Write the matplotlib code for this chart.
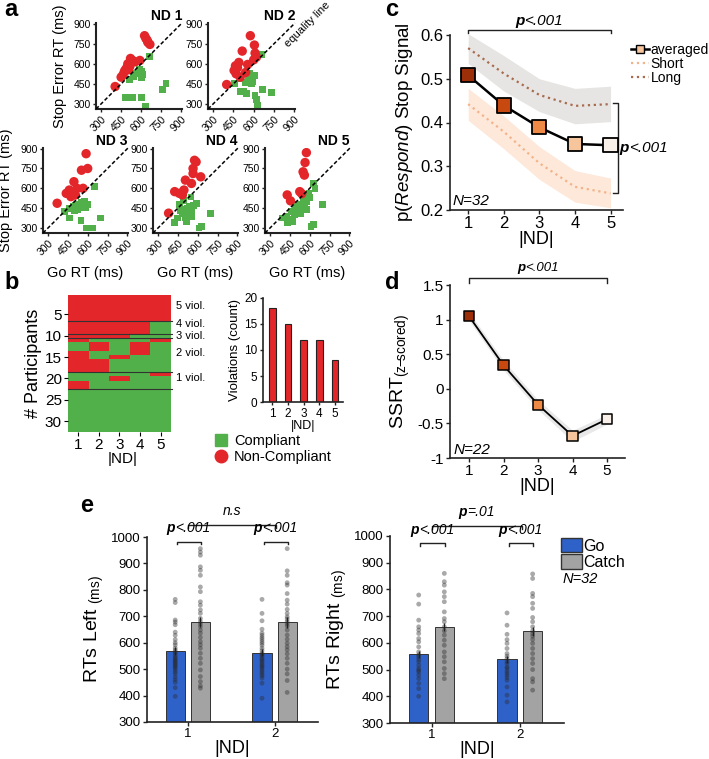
import numpy as np
import matplotlib.pyplot as plt
import matplotlib.transforms as mtransforms
from matplotlib.lines import Line2D
from matplotlib.patches import Patch
from matplotlib.colors import ListedColormap

plt.rcParams['font.family'] = ['Liberation Sans', 'DejaVu Sans']
plt.rcParams['mathtext.fontset'] = 'custom'
plt.rcParams['mathtext.rm'] = 'Liberation Sans'
plt.rcParams['mathtext.it'] = 'Liberation Sans:italic'
plt.rcParams['mathtext.bf'] = 'Liberation Sans:bold'

W, H = 709, 759
RED = '#e3262a'
GREEN = '#52b04b'
BLUE = '#2f62c9'
GREY = '#a3a3a3'

# ---- panel a: (Go RT, Stop Error RT) per participant, per |ND|
nd1_noncompliant = [(405, 430), (450, 500), (465, 520), (475, 545), (485, 560), (495, 575),
                    (505, 555), (515, 580), (500, 600), (520, 640), (535, 625), (555, 615),
                    (590, 625), (625, 810), (635, 790), (645, 775), (650, 760), (665, 745)]
nd1_compliant = [(480, 350), (535, 345), (600, 345), (630, 285), (760, 410), (785, 450),
                 (660, 655), (585, 555), (600, 540), (610, 520), (600, 500), (540, 505),
                 (560, 530), (515, 485)]
nd2_noncompliant = [(400, 445), (455, 550), (465, 585), (490, 610), (515, 695), (470, 525),
                    (500, 500), (540, 535), (575, 810), (605, 740), (610, 680), (620, 650),
                    (555, 595), (480, 570), (600, 630)]
nd2_compliant = [(455, 450), (500, 395), (525, 395), (548, 375), (535, 460), (570, 525),
                 (585, 450), (605, 510), (620, 335), (630, 290), (665, 410), (730, 385),
                 (660, 670), (560, 500), (590, 470), (500, 490), (610, 360)]
nd3_noncompliant = [(369, 487), (438, 562), (461, 587), (484, 575), (496, 650), (507, 550),
                    (519, 600), (565, 600), (553, 737), (600, 750), (588, 862), (473, 537)]
nd3_compliant = [(425, 425), (460, 450), (495, 460), (530, 475), (550, 490), (575, 500),
                 (520, 440), (480, 445), (460, 375), (550, 355), (590, 300), (640, 300),
                 (700, 375), (650, 612), (540, 455), (510, 470), (500, 430), (560, 470),
                 (600, 480), (585, 455)]
nd4_noncompliant = [(380, 412), (426, 575), (461, 562), (484, 550), (496, 587), (507, 662),
                    (553, 637), (565, 750), (576, 812), (588, 800), (565, 712), (623, 687)]
nd4_compliant = [(460, 475), (495, 510), (550, 535), (520, 450), (485, 410), (450, 375),
                 (505, 375), (555, 385), (590, 485), (425, 340), (700, 410), (610, 300),
                 (630, 310), (540, 460), (500, 440), (570, 470), (530, 400), (470, 430),
                 (555, 420), (515, 350)]
nd5_noncompliant = [(430, 550), (455, 505), (525, 575), (550, 725), (560, 700), (565, 795),
                    (575, 870), (540, 560)]
nd5_compliant = [(630, 635), (640, 600), (595, 560), (560, 510), (540, 475), (495, 450),
                 (460, 425), (425, 390), (390, 375), (435, 340), (470, 350), (530, 410),
                 (575, 440), (700, 475), (610, 310), (630, 325), (510, 480), (550, 520),
                 (580, 500), (600, 530), (520, 440), (485, 400), (455, 365), (560, 460)]
rt_ticks = [300, 450, 600, 750, 900]

# ---- panel b: violation pattern per participant (1 = violation) for |ND| 1..5
viol_pattern = ['11111'] * 6 + ['11110'] * 3 + ['11100'] + \
    ['10001', '01010', '01010', '10010', '10100', '11000', '11000', '11000'] + \
    ['00001', '00100', '10000', '10000'] + ['00000'] * 10
group_breaks = [6.5, 9.5, 10.5, 18.5, 22.5]
group_labels = ['5 viol.', '4 viol.', '3 viol.', '2 viol.', '1 viol.']
group_label_rows = [3.0, 7.2, 10.1, 14.0, 19.9]

# ---- panel c
nd = [1, 2, 3, 4, 5]
p_avg = [0.508, 0.439, 0.389, 0.351, 0.348]
p_long = [0.570, 0.512, 0.463, 0.438, 0.442]
p_long_lo = [0.535, 0.472, 0.425, 0.397, 0.402]
p_long_hi = [0.603, 0.553, 0.500, 0.478, 0.483]
p_short = [0.442, 0.379, 0.307, 0.253, 0.238]
p_short_lo = [0.405, 0.340, 0.270, 0.218, 0.205]
p_short_hi = [0.478, 0.415, 0.345, 0.290, 0.273]
nd_colors = ['#9c2f08', '#c8490f', '#ee8a45', '#f6c59c', '#f8efe8']

# ---- panel d
ssrt = [1.05, 0.34, -0.23, -0.68, -0.44]
ssrt_lo = [0.99, 0.27, -0.30, -0.76, -0.51]
ssrt_hi = [1.11, 0.41, -0.16, -0.60, -0.37]

# ---- panel e
nd_e = [1, 2]
left_go = [570, 562]
left_catch = [678, 677]
left_go_err = [15, 14]
left_catch_err = [20, 20]
right_go = [557, 538]
right_catch = [660, 643]
right_go_err = [14, 14]
right_catch_err = [16, 17]

left_go1_pts = [764, 752, 686, 678, 668, 640, 628, 612, 600, 592, 580, 572, 565, 560, 552, 545,
                540, 535, 530, 525, 520, 515, 510, 505, 498, 490, 482, 470, 460, 450, 430, 397]
left_catch1_pts = [956, 943, 931, 887, 874, 855, 811, 793, 755, 742, 724, 711, 692, 680, 671, 661,
                   648, 636, 620, 604, 592, 579, 560, 541, 522, 497, 472, 453, 437, 428]
left_go2_pts = [764, 711, 683, 651, 636, 628, 620, 613, 605, 598, 590, 579, 570, 560, 555, 548,
                540, 535, 528, 522, 515, 510, 505, 497, 490, 482, 475, 466, 447, 390]
left_catch2_pts = [956, 872, 855, 827, 818, 786, 761, 746, 726, 711, 698, 690, 680, 672, 663, 648,
                   629, 613, 598, 585, 573, 558, 541, 522, 500, 482, 457, 412]
right_go1_pts = [779, 745, 685, 660, 648, 635, 616, 604, 585, 566, 555, 548, 538, 529, 516, 504,
                 497, 491, 479, 466, 448, 429, 400]
right_catch1_pts = [860, 829, 816, 791, 773, 754, 716, 691, 679, 660, 645, 629, 610, 591, 566,
                    548, 529, 504, 485, 466]
right_go2_pts = [712, 666, 632, 612, 598, 579, 560, 550, 541, 530, 523, 510, 505, 495, 487, 479,
                 470, 460, 435, 404, 379]
right_catch2_pts = [858, 841, 785, 773, 748, 729, 695, 679, 660, 645, 635, 625, 613, 598, 579,
                    560, 541, 523, 500, 466, 454, 423]


def add_ax(fig, l, t, r, b):
    return fig.add_axes([l / W, 1 - b / H, (r - l) / W, (b - t) / H])


def ftext(fig, x, y, s, **kw):
    fig.text(x / W, 1 - y / H, s, **kw)


def style(ax, lw=1.2):
    for s in ['top', 'right']:
        ax.spines[s].set_visible(False)
    for s in ['left', 'bottom']:
        ax.spines[s].set_linewidth(lw)
        ax.spines[s].set_color('#222222')
    ax.tick_params(direction='out', length=3, width=1, color='#222222', pad=1.5)


def ptext(ax, x, y, rest, size, shift, va='bottom'):
    # bold italic "p" followed by italic statistic; shift moves the join point (in em)
    tr = mtransforms.offset_copy(ax.transData, fig=ax.figure, x=-shift * size, units='points')
    ax.text(x, y, 'p', ha='right', va=va, fontsize=size, fontweight='bold',
            fontstyle='italic', transform=tr, clip_on=False)
    ax.text(x, y, rest, ha='left', va=va, fontsize=size, fontstyle='italic',
            transform=tr, clip_on=False)


def hbracket(ax, x0, x1, y, drop, lw=1.0):
    ax.plot([x0, x0, x1, x1], [y - drop, y, y, y - drop], color='#222222', lw=lw, clip_on=False)


fig = plt.figure(figsize=(W / 100, H / 100), dpi=100)

# ================= panel a =================
a_panels = [(nd1_noncompliant, nd1_compliant, (96, 23, 182, 109)),
            (nd2_noncompliant, nd2_compliant, (208, 23, 295, 109)),
            (nd3_noncompliant, nd3_compliant, (43, 148, 128, 233)),
            (nd4_noncompliant, nd4_compliant, (153, 148, 238, 233)),
            (nd5_noncompliant, nd5_compliant, (265, 148, 350, 233))]
for i, (red, green, box) in enumerate(a_panels):
    ax = add_ax(fig, *box)
    g = np.array(green)
    r = np.array(red)
    ax.scatter(g[:, 0], g[:, 1], marker='s', s=24, c=GREEN, edgecolors='none', zorder=2)
    ax.scatter(r[:, 0], r[:, 1], marker='o', s=46, c=RED, edgecolors='none', zorder=3)
    ax.plot([262, 905], [262, 905], color='k', ls='--', dashes=(2.5, 1.5), lw=1.1, zorder=4,
            clip_on=False)
    ax.set_xlim(262, 905)
    ax.set_ylim(262, 905)
    ax.set_xticks(rt_ticks)
    ax.set_yticks(rt_ticks)
    ax.set_xticklabels(rt_ticks, rotation=45, ha='right', rotation_mode='anchor', fontsize=7.5)
    ax.set_yticklabels(rt_ticks, fontsize=7.5)
    style(ax, lw=1.5)
    ax.tick_params(length=2)
    ax.text(1.0, 1.0, f'ND {i + 1}', transform=ax.transAxes, ha='right', va='bottom',
            fontsize=10, fontweight='bold')
    if i >= 2:
        ax.set_xlabel('Go RT (ms)', fontsize=10.5, labelpad=6)

ftext(fig, 60, 66, 'Stop Error RT (ms)', rotation=90, ha='center', va='center', fontsize=10.5)
ftext(fig, 6, 190, 'Stop Error RT (ms)', rotation=90, ha='center', va='center', fontsize=10.5)
ftext(fig, 307, 24, 'equality line', rotation=45, ha='center', va='center', fontsize=8)

# ================= panel b =================
mat = np.array([[int(c) for c in row] for row in viol_pattern])
ax = add_ax(fig, 68, 295, 177, 432)
ax.imshow(mat, cmap=ListedColormap([GREEN, RED]), aspect='auto', interpolation='nearest',
          extent=(0.5, 5.5, mat.shape[0] + 0.5, 0.5))
for yb in group_breaks:
    ax.plot([0.5, 5.55], [yb, yb], color='#333333', lw=0.8, clip_on=False)
for lab, yr in zip(group_labels, group_label_rows):
    ax.text(5.75, yr, lab, fontsize=8, va='center', ha='left')
ax.set_xticks(nd)
ax.set_yticks([5, 10, 15, 20, 25, 30])
ax.tick_params(labelsize=11, length=3, pad=1.5)
for s in ax.spines.values():
    s.set_visible(False)
ax.set_xlabel('|ND|', fontsize=11, labelpad=0)
ax.set_ylabel('# Participants', fontsize=13, labelpad=2)

ax = add_ax(fig, 263, 298, 343, 402)
ax.bar(nd, mat.sum(axis=0), width=0.42, color=RED, edgecolor='#222222', lw=0.8)
ax.set_xlim(0.4, 5.5)
ax.set_ylim(0, 20)
ax.set_xticks(nd)
ax.set_yticks([0, 5, 10, 15, 20])
style(ax)
ax.tick_params(labelsize=8.5, length=2.5)
ax.set_xlabel('|ND|', fontsize=9, labelpad=0)
ax.set_ylabel('Violations (count)', fontsize=9.5, labelpad=2)

fig.legend(handles=[Line2D([], [], marker='s', ls='', color=GREEN, ms=8),
                    Line2D([], [], marker='o', ls='', color=RED, ms=9)],
           labels=['Compliant', 'Non-Compliant'], loc='upper left',
           bbox_to_anchor=(212 / W, 1 - 434 / H), frameon=False, fontsize=10.5,
           handletextpad=0.3, labelspacing=0.15, borderaxespad=0, handlelength=1.2,
           borderpad=0)

# ================= panel c =================
ax = add_ax(fig, 450, 35, 623, 210)
ax.fill_between(nd, p_long_lo, p_long_hi, color='#e7e5e3', lw=0, zorder=1)
ax.fill_between(nd, p_short_lo, p_short_hi, color='#fde8da', lw=0, zorder=1)
ax.plot(nd, p_long, ls=':', color='#a86b4e', lw=1.6, zorder=2)
ax.plot(nd, p_short, ls=':', color='#f3b38a', lw=1.6, zorder=2)
ax.plot(nd, p_avg, color='k', lw=1.8, zorder=3)
ax.scatter(nd, p_avg, marker='s', s=105, c=nd_colors, edgecolors='k', linewidths=1.3, zorder=4)
ax.set_xlim(0.49, 5.35)
ax.set_ylim(0.2, 0.6)
ax.set_xticks(nd)
ax.set_yticks([0.2, 0.3, 0.4, 0.5, 0.6])
style(ax)
ax.tick_params(labelsize=12)
ax.set_xlabel('|ND|', fontsize=13, labelpad=0)
ax.set_ylabel(r'p($\mathit{Respond}$) Stop Signal', fontsize=13.5, labelpad=4)
ax.text(0.55, 0.205, 'N=32', fontsize=11, fontstyle='italic', va='bottom')
hbracket(ax, 1, 5, 0.611, 0.006)
ptext(ax, 3, 0.617, '<.001', 11, 0.98)
ax.plot([5.06, 5.2, 5.2, 5.06], [0.445, 0.445, 0.239, 0.239], color='#222222', lw=1.0,
        clip_on=False)
ptext(ax, 5.24, 0.342, '<.001', 11, -0.62, va='center')
ax.legend(handles=[Line2D([], [], color='k', lw=1.8, marker='s', ms=6, mfc='#f6c59c', mec='k'),
                   Line2D([], [], color='#f3b38a', ls=':', lw=1.6),
                   Line2D([], [], color='#a86b4e', ls=':', lw=1.6)],
          labels=['averaged', 'Short', 'Long'], loc='upper left', bbox_to_anchor=(1.0, 1.0),
          frameon=False, fontsize=10, handlelength=1.3, handletextpad=0.1, labelspacing=0.0,
          borderaxespad=0.2)

# ================= panel d =================
ax = add_ax(fig, 450, 285, 625, 458)
ax.fill_between(nd, ssrt_lo, ssrt_hi, color='#e8e8e8', lw=0, zorder=1)
ax.plot(nd, ssrt, color='k', lw=1.3, zorder=3)
ax.scatter(nd, ssrt, marker='s', s=55, c=nd_colors, edgecolors='k', linewidths=1.1, zorder=4)
ax.set_xlim(0.45, 5.52)
ax.set_ylim(-1, 1.5)
ax.set_xticks(nd)
ax.set_yticks([-1, -0.5, 0, 0.5, 1, 1.5])
ax.set_yticklabels(['-1', '-0.5', '0', '0.5', '1', '1.5'])
style(ax)
ax.tick_params(labelsize=11)
ax.set_xlabel('|ND|', fontsize=13, labelpad=0)
ax.set_ylabel(r'SSRT$_{\mathrm{(z\!\!-\!\!scored)}}$', fontsize=14, labelpad=4)
ax.text(0.55, -0.98, 'N=22', fontsize=11, fontstyle='italic', va='bottom')
hbracket(ax, 1, 5, 1.60, 0.07)
ptext(ax, 3, 1.66, '<.001', 9.5, 0.98)

# ================= panel e =================
e_panels = [((147, 537, 318, 722), left_go, left_catch, left_go_err, left_catch_err,
             [left_go1_pts, left_go2_pts], [left_catch1_pts, left_catch2_pts],
             r'RTs Left $_{\mathrm{(ms)}}$',
             (982, 9, 1007), (1045, 11, 1072), 'n.s'),
            ((390, 536, 564, 723), right_go, right_catch, right_go_err, right_catch_err,
             [right_go1_pts, right_go2_pts], [right_catch1_pts, right_catch2_pts],
             r'RTs Right $_{\mathrm{(ms)}}$',
             (975, 11, 998), (1037, 11, 1064), '=.01')]
off = 0.145
for box, go, catch, go_err, catch_err, go_pts, catch_pts, ylab, small, top, toptxt in e_panels:
    ax = add_ax(fig, *box)
    xg = np.array(nd_e) - off
    xc = np.array(nd_e) + off
    ax.bar(xg, go, width=0.22, color=BLUE, edgecolor='#333333', lw=0.7, zorder=1)
    ax.bar(xc, catch, width=0.22, color=GREY, edgecolor='#333333', lw=0.7, zorder=1)
    ax.errorbar(xg, go, yerr=go_err, fmt='none', ecolor='#222222', elinewidth=0.9, zorder=3)
    ax.errorbar(xc, catch, yerr=catch_err, fmt='none', ecolor='#222222', elinewidth=0.9,
                zorder=3)
    for k in range(2):
        ax.scatter([xg[k]] * len(go_pts[k]), go_pts[k], s=12, color='#2a2a2a', alpha=0.4,
                   edgecolors='none', zorder=2)
        ax.scatter([xc[k]] * len(catch_pts[k]), catch_pts[k], s=12, color='#2a2a2a', alpha=0.4,
                   edgecolors='none', zorder=2)
        hbracket(ax, nd_e[k] - 0.125, nd_e[k] + 0.15, small[0], small[1])
        ptext(ax, nd_e[k] + 0.01, small[2], '<.001', 10, 0.98)
    hbracket(ax, 1.0, 2.02, top[0], top[1])
    if toptxt == 'n.s':
        ax.text(1.51, top[2], 'n.s', ha='center', va='bottom', fontsize=10, fontstyle='italic')
    else:
        ptext(ax, 1.51, top[2], toptxt, 10, 0.71)
    ax.set_xlim(0.53, 2.5)
    ax.set_ylim(300, 1000)
    ax.set_xticks(nd_e)
    ax.set_yticks(range(300, 1001, 100))
    style(ax)
    ax.tick_params(labelsize=9.5)
    ax.set_xlabel('|ND|', fontsize=13, labelpad=0)
    ax.set_ylabel(ylab, fontsize=14, labelpad=4)

fig.legend(handles=[Patch(facecolor=BLUE, edgecolor='#333333'),
                    Patch(facecolor=GREY, edgecolor='#333333')],
           labels=['Go', 'Catch'], loc='upper left', bbox_to_anchor=(561 / W, 1 - 538 / H),
           frameon=False, fontsize=11.5, handlelength=1.3, handleheight=1.0, handletextpad=0.1,
           labelspacing=0.05, borderaxespad=0, borderpad=0)
ftext(fig, 563, 579, 'N=32', fontsize=10.5, fontstyle='italic', va='center')

# panel letters
for letter, (x, y) in zip('abcde', [(4, 10), (4, 283), (385, 10), (385, 282), (80, 505)]):
    ftext(fig, x, y, letter, fontsize=17, fontweight='bold', va='center')

fig.savefig('out.png', dpi=100)
